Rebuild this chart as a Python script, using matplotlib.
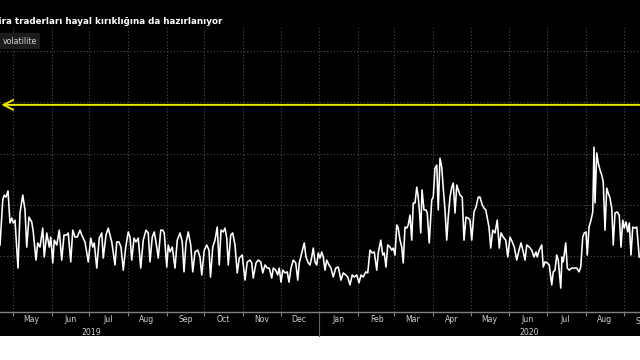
import numpy as np
import pandas as pd
import matplotlib
matplotlib.use('Agg')
import matplotlib.pyplot as plt
import matplotlib.dates as mdates
from matplotlib.transforms import blended_transform_factory

# Gun sayisi 2019-04-20'den itibaren, volatilite degerleri
start = pd.Timestamp('2019-04-20')

days_1 = [0.6, 2.8, 4.0, 5.4, 7.0, 8.6, 10.0, 11.2, 12.6, 15.0, 16.6, 18.8, 20.6, 22.0, 23.8, 26.0,
          27.2, 29.4, 30.8, 32.6, 34.8, 36.0, 38.0, 40.0, 41.2, 42.8, 44.0, 46.0, 48.0, 50.0, 51.8,
          54.0, 55.2, 57.2, 58.8, 60.6, 62.4, 64.6, 66.0, 68.6, 71.2, 73.2, 74.8, 76.0, 78.0, 80.0,
          82.0, 83.2, 85.4, 87.2]
vol_1 = [8.43, 10.19, 10.38, 10.30, 10.54, 9.29, 9.48, 9.29, 9.40, 7.53, 9.68, 10.38, 9.80, 8.35,
         9.52, 9.33, 8.94, 7.84, 8.51, 8.35, 9.09, 7.96, 8.90, 8.35, 8.74, 7.73, 8.62, 8.43, 9.01,
         7.84, 8.82, 8.82, 8.90, 7.77, 9.01, 8.74, 8.74, 9.01, 8.82, 8.55, 7.77, 8.70, 8.35, 8.51,
         7.53, 8.70, 8.90, 7.92, 8.82, 9.09]

days_2 = [88.6, 90.0, 92.6, 94.0, 95.8, 97.4, 99.2, 101.2, 103.2, 104.6, 106.0, 107.8, 109.4, 111.2,
          113.2, 115.2, 117.4, 119.2, 120.6, 122.4, 124.0, 126.0, 127.2, 129.2, 130.8, 132.0, 134.0,
          135.2, 136.6, 138.4, 140.6, 142.4, 144.6, 146.4, 147.8, 149.4, 151.2, 153.2, 154.8, 156.6,
          158.8, 160.6, 162.0, 164.0, 166.0, 167.8]
vol_2 = [8.82, 8.55, 7.65, 8.55, 8.55, 8.35, 7.45, 8.35, 8.94, 8.74, 7.84, 8.70, 8.55, 8.70, 7.53,
         8.62, 9.01, 8.90, 7.77, 8.74, 8.94, 8.35, 7.92, 9.01, 9.01, 8.90, 7.57, 8.43, 8.16, 8.35,
         7.53, 8.62, 8.90, 8.55, 7.38, 8.51, 8.94, 8.43, 7.38, 8.16, 8.23, 7.96, 7.26, 8.23, 8.43, 8.23]

days_3 = [169.0, 170.8, 172.6, 174.4, 176.0, 177.4, 179.2, 180.6, 182.0, 183.2, 185.2, 186.8, 188.6,
          190.4, 192.0, 194.4, 196.6, 198.4, 200.6, 202.0, 203.2, 205.4, 207.2, 209.2, 210.8, 212.6,
          214.4, 216.0, 218.0, 219.2, 221.2, 222.8, 224.0, 225.4, 226.8, 228.6, 230.4, 231.8, 233.4,
          235.2, 237.2, 238.8, 240.0, 242.0, 244.0, 245.4, 247.2, 248.6, 250.0, 251.2, 252.6]
vol_3 = [7.18, 8.35, 8.62, 9.13, 7.65, 9.01, 8.94, 9.09, 8.70, 7.65, 8.82, 8.90, 8.43, 7.34, 7.92,
         8.04, 7.06, 7.77, 7.84, 7.73, 7.14, 7.73, 7.84, 7.77, 7.34, 7.65, 7.53, 7.53, 7.14, 7.53,
         7.45, 7.26, 7.53, 6.98, 7.45, 7.34, 7.38, 6.98, 7.53, 7.84, 7.73, 7.06, 7.73, 8.12, 8.51,
         7.96, 7.73, 7.65, 7.96, 8.31, 7.77]

days_4 = [254.0, 255.2, 256.6, 258.0, 259.2, 260.6, 262.0, 263.8, 265.4, 267.2, 269.2, 271.2, 273.4,
          275.2, 277.2, 278.8, 280.6, 282.4, 284.0, 286.0, 287.8, 289.4, 291.2, 293.2, 294.8, 296.6,
          298.4, 300.0, 302.0, 303.2, 305.2, 306.8, 308.0, 309.4, 310.8, 312.6, 314.0, 315.2, 316.6,
          318.0, 319.2, 320.6, 322.0, 323.2, 324.6, 326.0, 327.2, 328.6, 330.0, 331.2, 332.6, 334.0,
          335.2, 336.2, 337.2]
vol_4 = [7.65, 8.12, 7.92, 8.16, 7.96, 7.45, 7.84, 7.65, 7.53, 7.18, 7.53, 7.57, 7.06, 7.34, 7.26,
         7.18, 6.87, 7.26, 7.18, 7.26, 6.95, 7.26, 7.18, 7.38, 7.34, 8.23, 8.12, 8.16, 7.45, 8.12,
         8.62, 8.04, 8.12, 7.57, 8.43, 8.35, 8.23, 8.31, 8.04, 9.21, 9.09, 8.62, 8.35, 7.73, 9.13,
         9.09, 9.21, 9.60, 8.62, 10.07, 10.07, 10.69, 10.30, 9.72, 8.90]

days_5 = [338.2, 339.8, 341.4, 342.4, 344.0, 346.0, 347.2, 348.6, 350.0, 351.2, 352.6, 354.0, 355.2,
          356.6, 358.0, 359.2, 360.6, 362.0, 363.2, 364.6, 366.0, 367.2, 368.6, 370.4, 371.8, 373.4,
          375.2, 376.6, 378.0, 379.8, 381.4, 383.2, 384.6, 386.4, 387.8, 389.2, 390.4, 391.8, 393.2,
          394.8, 396.6, 398.4, 400.0, 401.4, 403.2, 405.2, 406.8, 408.6, 410.4, 412.0, 414.0, 415.8,
          417.4, 419.2, 420.6, 422.0, 424.0]
vol_5 = [10.58, 9.80, 9.80, 9.68, 8.51, 10.19, 10.30, 11.43, 11.55, 9.80, 11.82, 11.47, 10.65, 9.80,
         8.62, 9.52, 10.30, 10.69, 10.85, 9.68, 10.77, 10.58, 10.38, 10.30, 8.62, 9.52, 9.48, 9.40,
         8.62, 9.72, 9.91, 10.30, 10.30, 9.99, 9.87, 9.80, 9.48, 9.13, 8.31, 9.01, 8.90, 9.40, 8.31,
         8.90, 8.74, 8.62, 7.96, 8.74, 8.55, 8.35, 7.84, 8.23, 8.51, 8.16, 7.84, 8.43, 8.35]

days_6 = [426.0, 427.8, 429.4, 430.4, 432.0, 434.0, 435.2, 436.6, 438.4, 440.0, 442.0, 443.2, 444.6,
          446.0, 447.2, 449.2, 450.2, 451.2, 453.2, 454.4, 456.0, 458.0, 459.8, 462.0, 463.8, 465.2,
          466.8, 468.0, 469.4, 470.4, 471.8, 473.4, 474.8, 475.8, 476.6, 478.0, 479.2, 480.6, 482.0,
          483.2, 484.6, 486.0, 487.2, 488.6, 490.0, 491.2, 492.6, 494.4, 496.0, 497.4, 498.8, 500.0,
          501.4, 502.8, 504.0, 505.4, 506.8, 508.6, 510.0, 512.0]
vol_6 = [8.23, 7.96, 8.16, 7.96, 8.23, 8.43, 7.57, 7.77, 7.73, 7.65, 6.87, 7.38, 7.45, 8.04, 7.84,
         6.75, 7.96, 7.77, 8.51, 7.53, 7.45, 7.53, 7.53, 7.53, 7.38, 7.57, 8.74, 8.90, 8.94, 8.04,
         9.13, 9.40, 9.72, 12.25, 10.07, 12.02, 11.63, 11.36, 11.16, 10.89, 9.01, 10.65, 10.46, 10.26,
         9.87, 8.43, 9.68, 9.72, 9.60, 8.35, 9.40, 9.09, 9.33, 8.94, 9.29, 8.04, 9.13, 9.09, 9.13, 7.96]

yellow_level = 13.9
x_range = (0.6, 512.6)
y_range = (5.815, 16.9)
year_labels = [('2019', 73.4), ('2020', 423.8)]

days = np.array(days_1 + days_2 + days_3 + days_4 + days_5 + days_6)
vol = np.array(vol_1 + vol_2 + vol_3 + vol_4 + vol_5 + vol_6)
dates = start + pd.to_timedelta(days, unit='D')

fig = plt.figure(figsize=(6.4, 3.6), dpi=100, facecolor='black')
# white strip under the chart
fig.patches.append(plt.Rectangle((0, 0), 1, 24 / 360, transform=fig.transFigure,
                                 facecolor='white', edgecolor='none', zorder=-1))
ax = fig.add_axes([0, 1 - 312 / 360, 1, (312 - 28) / 360])
ax.set_facecolor('black')

ax.plot(dates, vol, color='white', lw=1.15, zorder=3)

ax.annotate('', xy=(0.002, yellow_level), xytext=(1.0, yellow_level),
            xycoords=('axes fraction', 'data'), textcoords=('axes fraction', 'data'),
            arrowprops=dict(arrowstyle='->,head_length=0.7,head_width=0.35',
                            color='#e8e800', lw=1.4, shrinkA=0, shrinkB=0), zorder=2)

ax.set_xlim(start + pd.Timedelta(days=x_range[0]), start + pd.Timedelta(days=x_range[1]))
ax.set_ylim(*y_range)
ax.set_yticks([8, 10, 12, 14, 16])
ax.tick_params(axis='y', left=False, labelleft=False)

ax.xaxis.set_major_locator(mdates.MonthLocator())
ax.xaxis.set_major_formatter(plt.NullFormatter())
ax.xaxis.set_minor_locator(mdates.MonthLocator(bymonthday=16))
ax.xaxis.set_minor_formatter(mdates.DateFormatter('%b'))
ax.tick_params(axis='x', which='major', direction='out', length=3, color='#808080', width=0.8)
ax.tick_params(axis='x', which='minor', length=0, labelsize=5.6, labelcolor='#d0d0d0', pad=2)

ax.grid(True, which='major', color='#505050', linestyle=(0, (1, 2)), linewidth=0.8)

for side in ['top', 'right', 'left']:
    ax.spines[side].set_visible(False)
ax.spines['bottom'].set_color('#808080')
ax.spines['bottom'].set_linewidth(1.0)

trans = blended_transform_factory(ax.transData, ax.transAxes)
for label, d in year_labels:
    ax.text(start + pd.Timedelta(days=d), -0.058, label, transform=trans, ha='center', va='top',
            fontsize=5.6, color='#d0d0d0')
# Sep label partly off the right edge
ax.text(pd.Timestamp('2020-09-16'), -0.0165, 'Sep', transform=trans, ha='center', va='top',
        fontsize=5.6, color='#d0d0d0', clip_on=False)
# year divider under the axis
ax.plot([pd.Timestamp('2020-01-01')] * 2, [0, -0.085], transform=trans, color='#606060',
        lw=0.8, clip_on=False)

fig.text(-7 / 640, 1 - 22 / 360, 'Lira traderları hayal kırıklığına da hazırlanıyor',
         color='white', fontsize=6.3, fontweight='bold', va='center', ha='left')
ax.text(3 / 640, 1 - 13 / 284, 'volatilite', transform=ax.transAxes, color='#d8d8d8',
        fontsize=5.7, va='center', ha='left',
        bbox=dict(boxstyle='square,pad=0.4', facecolor='#1c1c1c', edgecolor='none'))

fig.savefig('out.png', dpi=100, facecolor='black')
